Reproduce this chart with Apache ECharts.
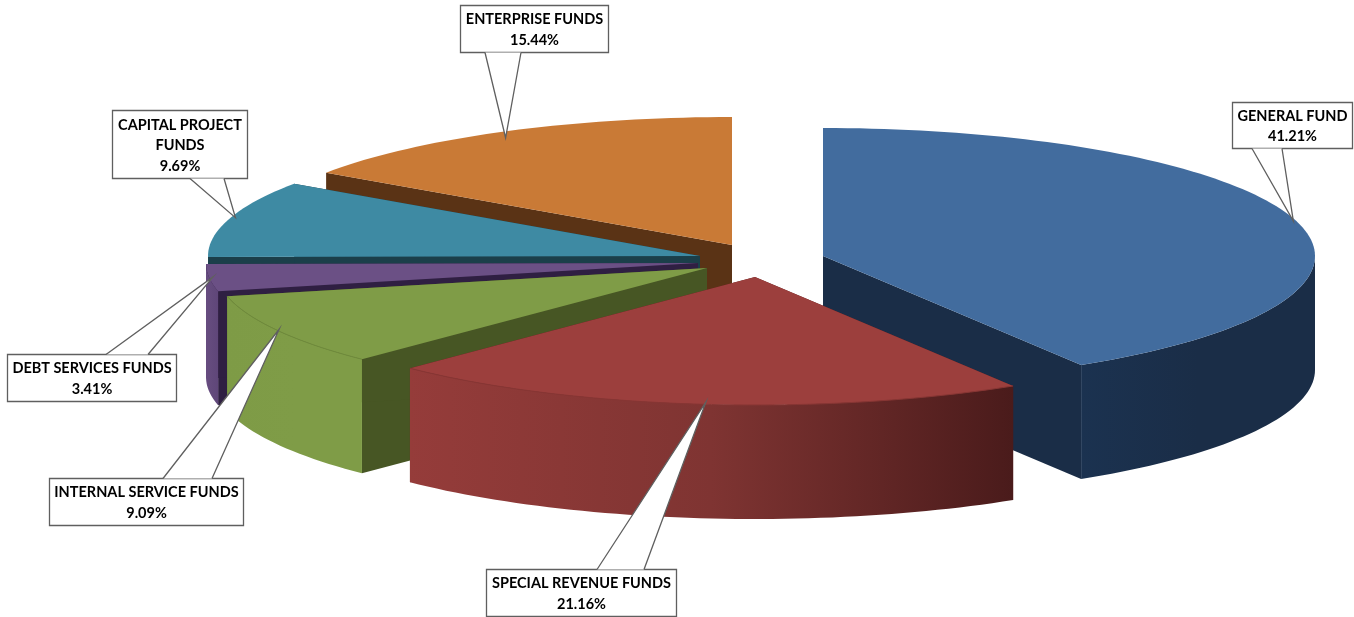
<!DOCTYPE html>
<html><head><meta charset="utf-8">
<style>html,body{margin:0;padding:0;background:#fff}#c{width:1354px;height:617px}</style>
<script src="https://cdn.jsdelivr.net/npm/echarts@6/dist/echarts.min.js"></script>
</head><body><div id="c"></div>
<script>
const categories = ['GENERAL FUND','SPECIAL REVENUE FUNDS','INTERNAL SERVICE FUNDS','DEBT SERVICES FUNDS','CAPITAL PROJECT\nFUNDS','ENTERPRISE FUNDS'];
const shares = [41.21,21.16,9.09,3.41,9.69,15.44];

// ---- layout & style, separate from the data ----
const pie = {cx:720, cy:262, rx:492, ry:128, depth:114};
const explode = [[103,-6],[35,15],[-13,6],[-22,1],[-20,-6],[12,-17]];
const paintOrder = [5,6,4,3,2,1]; // z rank per slice: back to front
const topColors  = ['#426C9E','#9C3F3D','#7F9C47','#6B5085','#3E8AA3','#C97A36'];
const wallColors = ['#1A2D47','#5A1F1E','#475624','#2F1F42','#1B3F4A','#5A3315'];
const outerStops = [['#1B3250','#1A2D47','#1A2D47'],['#953C3A','#7F3432','#4A1B1B'],['#7E9B46','#7F9C47','#7F9C47'],['#674C80','#634A7C','#5F4679'],['#1B3F4A','#1B3F4A','#1B3F4A'],['#5A3315','#5A3315','#5A3315']];
const edgeColors = [null,'#873634','#6F8A3C',null,null,null];
const boxes = [[1232,102,120,46,1252,1282],[486,569,190,47,597,644],[49,478,194,47,163,212],[7,354,169,47,106,148],[112,110,135,68,190,224],[460,5,148,47,485,521]];
const tipNudge = [[-3,0],[6,-2],[2,-1],[4,-1],[6,-1],[3,6]];

const cum = [];
shares.reduce((s,v,i)=>{cum[i]=s;return s+v;},0);
const total = shares.reduce((a,b)=>a+b,0);
const ang = p => p/total*2*Math.PI;
const onRim = (ox,oy,a,dz) => [pie.cx+ox+pie.rx*Math.sin(a), pie.cy+oy-pie.ry*Math.cos(a)+dz];

function arc(ox,oy,a0,a1,dz){
  const n = Math.max(8,Math.ceil((a1-a0)*40)), out=[];
  for(let k=0;k<=n;k++) out.push(onRim(ox,oy,a0+(a1-a0)*k/n,dz));
  return out;
}
function renderSlice(params,api){
  const i = api.value(1), v = api.value(0);
  const a0 = ang(cum[i]), a1 = ang(cum[i]+v);
  const [ox,oy] = explode[i];
  const apex = [pie.cx+ox,pie.cy+oy];
  const apexB = [apex[0],apex[1]+pie.depth];
  const z = paintOrder[i]*10;
  const top = arc(ox,oy,a0,a1,0), bot = arc(ox,oy,a0,a1,pie.depth);
  const kids = [];
  const poly = (pts,fill,zz)=>({type:'polygon',z2:z+zz,shape:{points:pts},style:{fill:fill,stroke:null}});
  // radial walls
  kids.push(poly([apex,top[0],bot[0],apexB],wallColors[i],0));
  kids.push(poly([apex,top[top.length-1],bot[bot.length-1],apexB],wallColors[i],1));
  // outer wall (only the front half of the rim faces the viewer)
  const vis = [];
  for(let k=0;k<top.length;k++){
    const t = a0+(a1-a0)*k/(top.length-1);
    if(Math.cos(t)<=0.02) vis.push(k);
  }
  if(vis.length>1){
    const ts = vis.map(k=>top[k]), bs = vis.map(k=>bot[k]).reverse();
    const xs = ts.map(p=>p[0]), x0=Math.min(...xs), x1=Math.max(...xs);
    kids.push({type:'polygon',z2:z+2,shape:{points:ts.concat(bs)},style:{
      fill:new echarts.graphic.LinearGradient(x0,0,x1,0,[
        {offset:0,color:outerStops[i][0]},{offset:.5,color:outerStops[i][1]},{offset:1,color:outerStops[i][2]}],true),stroke:null}});
  }
  // top face
  kids.push(poly([apex].concat(top),topColors[i],3));
  if(edgeColors[i]) kids.push({type:'polyline',z2:z+4,shape:{points:top},style:{stroke:edgeColors[i],lineWidth:1,fill:null}});
  return {type:'group',children:kids};
}
function renderCallout(params,api){
  const i = api.value(1), v = api.value(0);
  const mid = ang(cum[i]+v/2);
  const [ox,oy] = explode[i];
  const t = onRim(ox,oy,mid,0);
  const tip = [t[0]+tipNudge[i][0],t[1]+tipNudge[i][1]];
  const [bx,by,bw,bh,w0,w1] = boxes[i];
  const edge = by>tip[1] ? by : by+bh;
  const z = 100+i*5, stroke='#5f5f5f';
  return {type:'group',children:[
    {type:'rect',z2:z,shape:{x:bx+.5,y:by+.5,width:bw,height:bh},style:{fill:'#fff',stroke:stroke,lineWidth:1.3}},
    {type:'polygon',z2:z+1,shape:{points:[[w0,edge+.5],tip,[w1,edge+.5]]},style:{fill:'#fff',stroke:null}},
    {type:'polyline',z2:z+2,shape:{points:[[w0,edge+.5],tip,[w1,edge+.5]]},style:{stroke:stroke,lineWidth:1.3,fill:null}},
    {type:'text',z2:z+3,x:bx+bw/2+.5,y:by+bh/2+1.5,style:{
      text:categories[i]+'\n'+v.toFixed(2)+'%',
      fill:'#000',font:'bold 14.5px Lato, "Open Sans", sans-serif',lineHeight:20.5,
      align:'center',verticalAlign:'middle',textAlign:'center',textVerticalAlign:'middle'}}
  ]};
}
const rows = shares.map((v,i)=>[v,i]);
const chart = echarts.init(document.getElementById('c'),null,{renderer:'canvas'});
chart.setOption({
  animation:false,
  backgroundColor:'#fff',
  series:[
    {type:'custom',coordinateSystem:'none',data:rows,renderItem:renderSlice,silent:true},
    {type:'custom',coordinateSystem:'none',data:rows,renderItem:renderCallout,silent:true}
  ]
});
</script></body></html>
